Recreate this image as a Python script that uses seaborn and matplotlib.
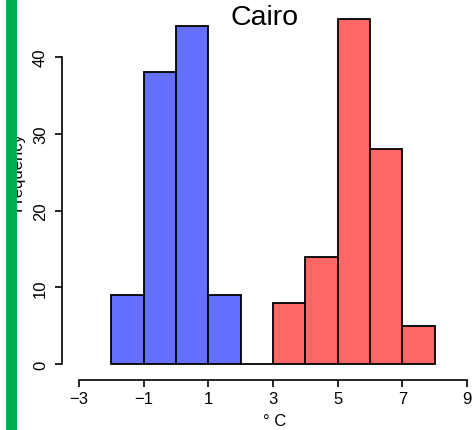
import numpy as np
import pandas as pd
import matplotlib
matplotlib.use("Agg")
import matplotlib.pyplot as plt
import seaborn as sns
from matplotlib.patches import Rectangle

sns.set_style("white")
plt.rcParams["font.family"] = ["Liberation Sans", "DejaVu Sans"]

# histogram bins
blue_edges = [-2, -1, 0, 1, 2, 3]
blue_counts = [9, 38, 44, 9, 0]
red_edges = [3, 4, 5, 6, 7, 8]
red_counts = [8, 14, 45, 28, 5]
x_ticks = [-3, -1, 1, 3, 5, 7, 9]
y_ticks = [0, 10, 20, 30, 40]

W, H = 473, 431
fig = plt.figure(figsize=(W / 100, H / 100), dpi=100)

# axes box in pixels: x 62..467, y 10..381
ax = fig.add_axes([62 / W, 50 / H, 405 / W, 371 / H])


def centers(edges):
    e = np.array(edges, dtype=float)
    return (e[:-1] + e[1:]) / 2


blue = pd.DataFrame({"x": centers(blue_edges), "n": blue_counts})
red = pd.DataFrame({"x": centers(red_edges), "n": red_counts})

sns.histplot(data=blue, x="x", weights="n", bins=blue_edges, color="#6570FF",
             alpha=1, edgecolor="black", linewidth=1.3, ax=ax)
sns.histplot(data=red, x="x", weights="n", bins=red_edges, color="#FF6666",
             alpha=1, edgecolor="black", linewidth=1.3, ax=ax)

x_px = 32.33
y_px = 7.675
ax.set_xlim(-3 - 17 / x_px, 9)
ax.set_ylim(-16 / y_px, 355 / y_px)

for s in ["top", "right"]:
    ax.spines[s].set_visible(False)
ax.spines["left"].set_bounds(0, 40)
ax.spines["bottom"].set_bounds(-3, 9)
for s in ["left", "bottom"]:
    ax.spines[s].set_linewidth(1.2)
    ax.spines[s].set_color("black")

ax.set_xticks(x_ticks)
ax.set_xticklabels([str(v).replace("-", "\u2212") for v in x_ticks])
ax.set_yticks(y_ticks)
ax.set_yticklabels([str(v) for v in y_ticks], rotation=90, va="center")
ax.tick_params(axis="both", direction="out", length=5, width=1.2,
               labelsize=12, color="black", labelcolor="black",
               left=True, bottom=True)
ax.tick_params(axis="y", pad=5)
ax.tick_params(axis="x", pad=3)
ax.set_xlabel("")
ax.set_ylabel("")

fig.text(265 / W, 1 - 18 / H, "Cairo", ha="center", va="center",
         fontsize=20.5, color="black")
fig.text(275 / W, 1 - 422 / H, "\u00b0 C", ha="center", va="center",
         fontsize=12, color="black")
fig.text(17 / W, 1 - 172 / H, "Frequency", ha="center", va="center",
         rotation=90, fontsize=12, color="black")

# green strip on the left edge
fig.patches.append(Rectangle((6 / W, 0), 11 / W, 1, transform=fig.transFigure,
                             facecolor="#00B050", edgecolor="none", zorder=10))

fig.savefig("out.png", dpi=100)
